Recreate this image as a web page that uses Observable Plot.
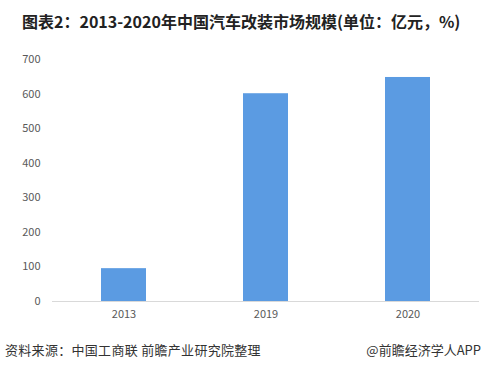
<!DOCTYPE html>
<html><head><meta charset="utf-8">
<script src="https://cdn.jsdelivr.net/npm/d3@7"></script>
<script src="https://cdn.jsdelivr.net/npm/@observablehq/plot@0.6"></script>
<style>
body{margin:0;background:#fff;width:485px;height:370px;position:relative;overflow:hidden;font-family:"Noto Sans CJK SC","Noto Sans",sans-serif;}
#title{position:absolute;left:22px;top:9px;font-size:16px;font-weight:bold;color:#222;white-space:nowrap}
#chart{position:absolute;left:0;top:40px}
#src{position:absolute;left:5px;top:340px;font-size:13px;color:#333;white-space:nowrap;letter-spacing:0.3px}
#app{position:absolute;right:4px;top:340px;font-size:13px;color:#333;white-space:nowrap}
</style></head>
<body>
<div id="title">图表2：2013-2020年中国汽车改装市场规模(单位：亿元，%)</div>
<div id="chart"></div>
<div id="src">资料来源：中国工商联 前瞻产业研究院整理</div>
<div id="app">@前瞻经济学人APP</div>
<script>
const years = ["2013", "2019", "2020"];
const values = [95, 601, 648];
const yTicks = [0, 100, 200, 300, 400, 500, 600, 700];
const data = years.map((y, i) => ({year: y, value: values[i]}));
const chart = Plot.plot({
  width: 485, height: 290,
  marginTop: 19, marginBottom: 29, marginLeft: 52, marginRight: 6,
  style: {fontFamily: "'Noto Sans CJK SC', sans-serif", fontSize: "11px", color: "#595959", background: "transparent"},
  x: {domain: years, paddingInner: 0.685, paddingOuter: 0.3425, label: null, tickSize: 0, tickPadding: 9},
  y: {domain: [0, 700], ticks: yTicks, label: null, tickSize: 0, tickPadding: 12},
  marks: [
    Plot.barY(data, {x: "year", y: "value", fill: "#5B9BE2"}),
    Plot.ruleY([0], {stroke: "#d9d9d9"})
  ]
});
document.getElementById("chart").appendChild(chart);
</script>
</body></html>
